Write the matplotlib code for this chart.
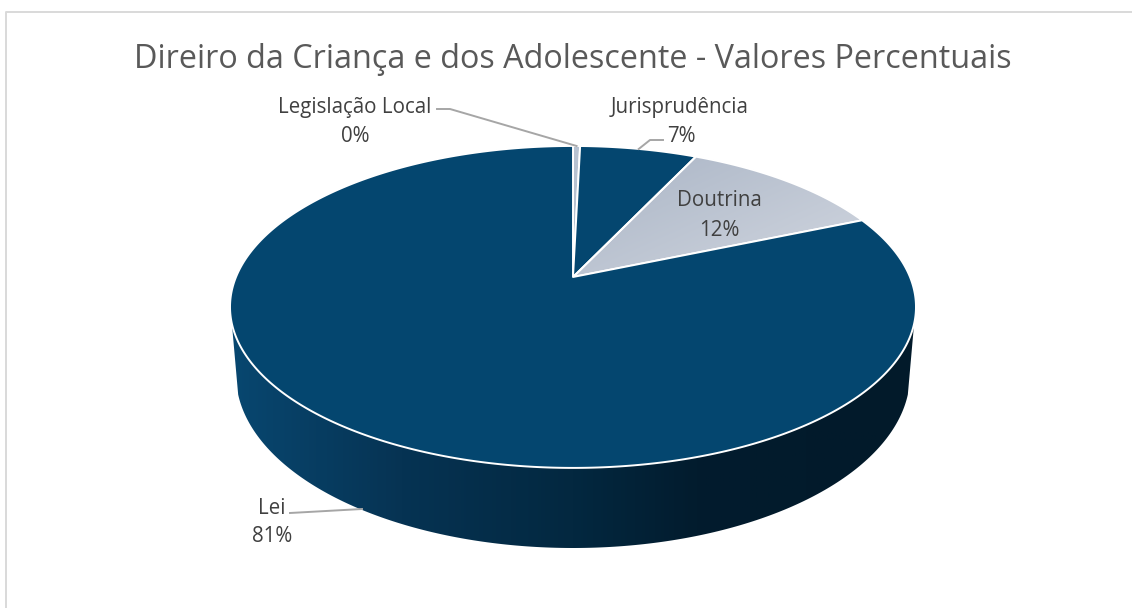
#!/usr/bin/env python3
import matplotlib

matplotlib.use("Agg")
import matplotlib.pyplot as plt
import numpy as np
from matplotlib.colors import LinearSegmentedColormap
from matplotlib.patches import Polygon

TITLE = "Direiro da Criança e dos Adolescente - Valores Percentuais"
CATEGORIES = ["Legislação Local", "Jurisprudência", "Doutrina", "Lei"]
VALUES = [0.4, 6.6, 11.6, 81.4]
SLICE_COLORS = ["#b7c2d1", "#04466f", None, "#04466f"]

# projected pie geometry, in figure pixels
CX, CY = 573.0, 277.0
RX, RY, PERSP = 337.0, 155.4, 0.186
WALL_CY, WALL_RX, WALL_RY = 375.0, 337.0, 173.0
TEXT_COLOR = "#404040"
LINE_COLOR = "#a6a6a6"


def rim_point(frac):
    theta = 2.0 * np.pi * np.asarray(frac) / 100.0
    w = 1.0 + PERSP * np.cos(theta)
    return CX + RX * np.sin(theta) / w, CY - RY * np.cos(theta) / w


def wedge_points(start, end):
    fracs = np.linspace(start, end, max(4, int((end - start) * 8)))
    xs, ys = rim_point(fracs)
    return np.column_stack(
        [np.concatenate([[CX], xs]), np.concatenate([[CY], ys])]
    )


def draw_wall(ax):
    # the side: from the rim down to the lower ellipse
    t = np.linspace(np.deg2rad(173.5), np.deg2rad(6.5), 200)
    low_x = CX + WALL_RX * np.cos(t)
    low_y = WALL_CY + WALL_RY * np.sin(t)
    xs = np.concatenate([[232.0], low_x, [914.0]])
    ys = np.concatenate([[325.0], low_y, [325.0]])
    poly = Polygon(np.column_stack([xs, ys]), closed=True, fc="none", ec="none")
    ax.add_patch(poly)
    cmap = LinearSegmentedColormap.from_list(
        "wall",
        [
            (0.0, "#084770"),
            (0.25, "#063353"),
            (0.5, "#032840"),
            (0.68, "#021c2e"),
            (1.0, "#021a2a"),
        ],
    )
    img = ax.imshow(
        np.linspace(0, 1, 400)[None, :],
        extent=(230, 916, 560, 300),
        cmap=cmap,
        aspect="auto",
        zorder=1,
    )
    img.set_clip_path(poly)


def draw_slices(ax):
    ends = np.cumsum(VALUES)
    starts = ends - np.array(VALUES)
    for start, end, color in zip(starts, ends, SLICE_COLORS):
        pts = wedge_points(start, end)
        if color is None:
            # doutrina has a soft diagonal gradient
            poly = Polygon(pts, closed=True, fc="none", ec="none", zorder=3)
            ax.add_patch(poly)
            gx, gy = np.meshgrid(np.linspace(0, 1, 80), np.linspace(0, 1, 80))
            cmap = LinearSegmentedColormap.from_list("dout", ["#a9b4c5", "#d2d7e0"])
            img = ax.imshow(
                (gx + gy) / 2.0,
                extent=(575, 865, 280, 150),
                cmap=cmap,
                aspect="auto",
                zorder=3,
            )
            img.set_clip_path(poly)
            color = "none"
        ax.add_patch(
            Polygon(pts, closed=True, fc=color, ec="white", lw=1.4, zorder=4, joinstyle="round")
        )


def draw_labels(ax):
    ends = np.cumsum(VALUES)
    mids = ends - np.array(VALUES) / 2.0
    text_xy = [(355, 107), (680, 107), (719, 201), (272, 508)]
    for name, value, (x, y) in zip(CATEGORIES, VALUES, text_xy):
        kw = dict(ha="center", va="center", fontsize=14.8, color=TEXT_COLOR, zorder=6)
        ax.text(x, y, name, **kw)
        ax.text(x + (1 if name == "Jurisprudência" else 0), y + 29, f"{value:.0f}%", **kw)
    x0, y0 = rim_point(mids[0])
    ax.plot([437, 450, x0], [109, 109, y0], color=LINE_COLOR, lw=1.4, zorder=5)
    x1, y1 = rim_point(mids[1])
    ax.plot([663, 650, x1], [140, 140, y1], color=LINE_COLOR, lw=1.4, zorder=5)
    ax.plot([290, 362], [513, 509], color=LINE_COLOR, lw=1.4, zorder=5)


def main():
    fig = plt.figure(figsize=(11.32, 6.08), dpi=100)
    ax = fig.add_axes([0, 0, 1, 1])
    draw_wall(ax)
    draw_slices(ax)
    draw_labels(ax)
    ax.text(573, 60, TITLE, ha="center", va="center", fontsize=23.3, color="#595959")
    ax.plot([5.5, 5.5, 1132], [608, 11.5, 11.5], color="#d9d9d9", lw=1.4, zorder=1)
    ax.set_xlim(0, 1132)
    ax.set_ylim(608, 0)
    ax.axis("off")
    fig.savefig("out.png", dpi=100)
    plt.close(fig)


if __name__ == "__main__":
    plt.rcParams["font.family"] = ["Open Sans", "DejaVu Sans"]
    main()
